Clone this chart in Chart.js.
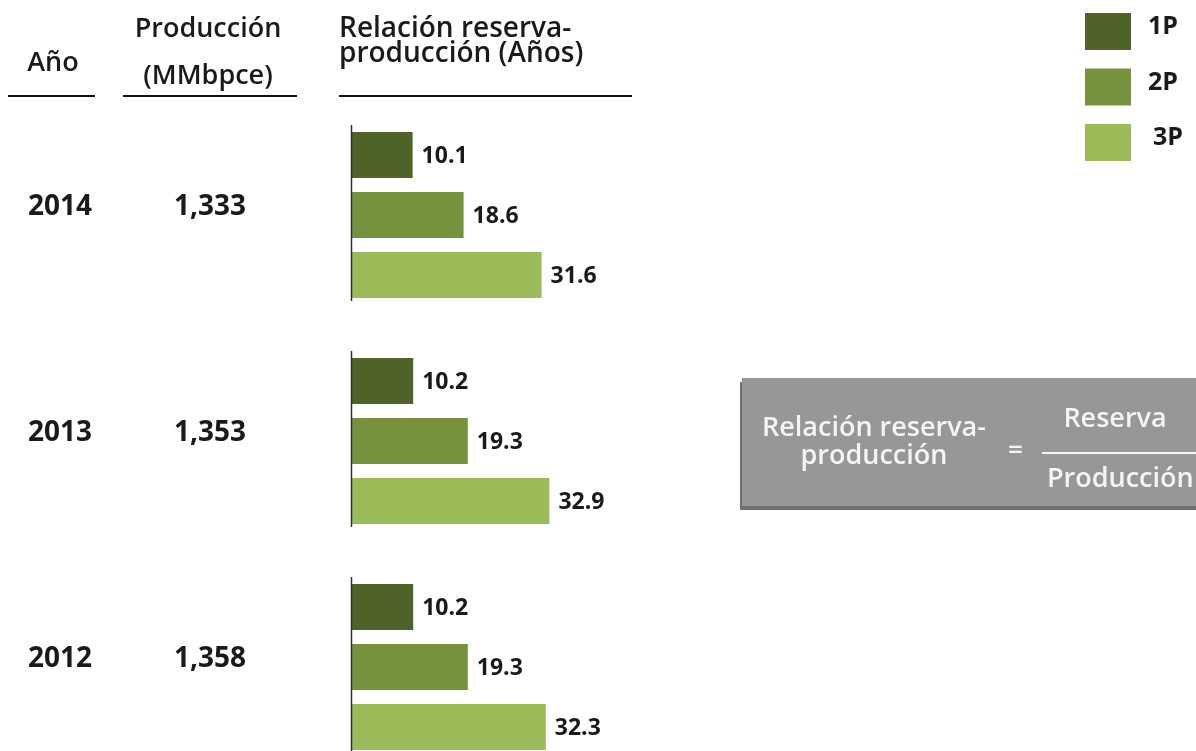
<!DOCTYPE html>
<html>
<head>
<meta charset="utf-8">
<script src="https://cdn.jsdelivr.net/npm/chart.js@4"></script>
<style>
  html, body { margin:0; padding:0; background:#fff; overflow:hidden; width:1196px; height:751px; }
  #wrap { position:absolute; left:0; top:0; width:1196px; height:800px; }
  #box { position:absolute; left:742px; top:378px; width:520px; height:128px; background:#979797;
         box-shadow:-2px 4px 0 #6f6f6f; font-family:"Open Sans", sans-serif; font-weight:600; color:#f4f4f4; font-size:27px; }
  #box .l { position:absolute; left:0; width:264px; text-align:center; line-height:28px; top:34px; }
  #box .eq { position:absolute; left:266px; top:58px; font-size:26px; line-height:24px; }
  #box .num { position:absolute; left:315px; width:116px; text-align:center; top:24px; line-height:30px; }
  #box .bar { position:absolute; left:300px; top:74px; width:200px; height:2px; background:#f4f4f4; }
  #box .den { position:absolute; left:305px; top:84px; line-height:30px; }
</style>
</head>
<body>
<div id="wrap"><canvas id="c" width="1196" height="800"></canvas></div>
<div id="box">
  <div class="l">Relación reserva-<br>producción</div>
  <div class="eq">=</div>
  <div class="num">Reserva</div>
  <div class="bar"></div>
  <div class="den">Producción</div>
</div>
<script>
// ---- data ----
const years = ['2014', '2013', '2012'];
const production = ['1,333', '1,353', '1,358'];
const seriesLabels = ['1P', '2P', '3P'];
const ratio1P = [10.1, 10.2, 10.2];
const ratio2P = [18.6, 19.3, 19.3];
const ratio3P = [31.6, 32.9, 32.3];
const seriesColors = ['#4f6228', '#76923c', '#9bbb59'];
const headers = { year: 'Año', prod: ['Producción', '(MMbpce)'], ratio: ['Relación reserva-', 'producción (Años)'] };

const FONT = '"Open Sans", sans-serif';

const overlay = {
  id: 'overlay',
  afterDatasetsDraw(chart) {
    const ctx = chart.ctx;
    const ys = chart.scales.y;
    const area = chart.chartArea;
    ctx.save();
    // axis segments per group
    ctx.strokeStyle = '#333';
    ctx.lineWidth = 1.5;
    years.forEach((y, i) => {
      const c = ys.getPixelForValue(i);
      ctx.beginPath();
      ctx.moveTo(area.left - 0.5, c - 90);
      ctx.lineTo(area.left - 0.5, c + 86);
      ctx.stroke();
    });
    // data labels
    ctx.fillStyle = '#1a1a1a';
    ctx.font = '700 23px ' + FONT;
    ctx.textBaseline = 'middle';
    ctx.textAlign = 'left';
    chart.data.datasets.forEach((ds, di) => {
      const meta = chart.getDatasetMeta(di);
      meta.data.forEach((el, i) => {
        ctx.fillText(ds.data[i].toFixed(1), el.x + 9, el.y + 1);
      });
    });
    // table: years and production
    ctx.font = '700 28px ' + FONT;
    ctx.textAlign = 'center';
    years.forEach((y, i) => {
      const c = ys.getPixelForValue(i) - 8;
      ctx.fillText(y, 60, c);
      ctx.fillText(production[i], 210, c);
    });
    // headers
    ctx.font = '600 27px ' + FONT;
    ctx.textBaseline = 'alphabetic';
    ctx.fillText(headers.year, 53, 71);
    ctx.fillText(headers.prod[0], 208, 37);
    ctx.fillText(headers.prod[1], 208, 84);
    ctx.textAlign = 'left';
    ctx.font = '600 28px ' + FONT;
    ctx.fillText(headers.ratio[0], 339, 37);
    ctx.fillText(headers.ratio[1], 339, 62);
    // underlines
    ctx.strokeStyle = '#111';
    ctx.lineWidth = 2;
    [[8, 95], [123, 297], [339, 632]].forEach(([a, b]) => {
      ctx.beginPath(); ctx.moveTo(a, 96); ctx.lineTo(b, 96); ctx.stroke();
    });
    // legend
    ctx.font = '700 25px ' + FONT;
    ctx.textBaseline = 'middle';
    chart.data.datasets.forEach((ds, di) => {
      const top = 13 + di * 55.5;
      ctx.fillStyle = ds.backgroundColor;
      ctx.fillRect(1085, top, 46, 37);
      ctx.fillStyle = '#1a1a1a';
      ctx.fillText(ds.label, 1148 + (di === 2 ? 5 : 0), top + 14);
    });
    ctx.restore();
  }
};

new Chart(document.getElementById('c'), {
  type: 'bar',
  data: {
    labels: years,
    datasets: [
      { label: seriesLabels[0], data: ratio1P, backgroundColor: seriesColors[0] },
      { label: seriesLabels[1], data: ratio2P, backgroundColor: seriesColors[1] },
      { label: seriesLabels[2], data: ratio3P, backgroundColor: seriesColors[2] }
    ]
  },
  options: {
    indexAxis: 'y',
    responsive: false,
    animation: false,
    devicePixelRatio: 1,
    categoryPercentage: 0.797,
    barPercentage: 0.767,
    layout: { padding: { left: 352, right: 4, top: 102, bottom: 20 } },
    scales: {
      x: { display: false, min: 0, max: 140 },
      y: { display: false, offset: true }
    },
    plugins: { legend: { display: false }, tooltip: { enabled: false } }
  },
  plugins: [overlay]
});
</script>
</body>
</html>
